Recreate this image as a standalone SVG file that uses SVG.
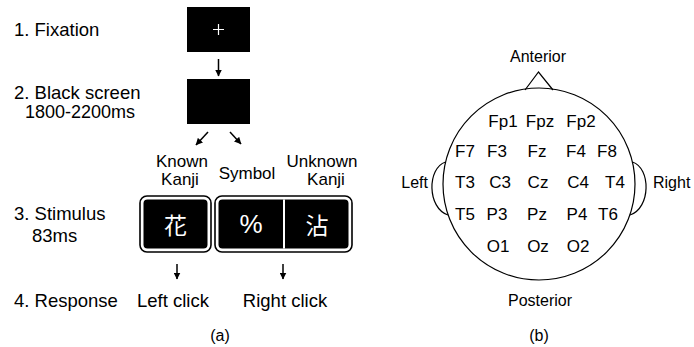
<svg xmlns="http://www.w3.org/2000/svg" width="694" height="347" viewBox="0 0 694 347">
<defs>
<marker id="ah" markerUnits="userSpaceOnUse" markerWidth="7" markerHeight="7" refX="6.5" refY="3.5" orient="auto"><path d="M0,0 L7,3.5 L0,7 Z" fill="#000"/></marker>
<style>
text{font-family:"Liberation Sans",Arial,"Noto Sans CJK JP",sans-serif;fill:#000}
.lab{font-size:18.5px}
.cat{font-size:17px;text-anchor:middle}
.el{font-size:17px;text-anchor:middle}
.hd{font-size:16px}
.cap{font-size:16px;text-anchor:middle}
.stim{font-family:"Noto Sans CJK JP","Liberation Sans",sans-serif;font-size:23px;fill:#fff;text-anchor:middle;dominant-baseline:central}
.ln{stroke:#000;stroke-width:1.5;fill:none}
.thin{stroke:#000;stroke-width:1.2;fill:none}
.outer{fill:#fff;stroke:#000;stroke-width:1.6}
</style>
</defs>
<rect width="694" height="347" fill="#fff"/>

<g id="labels">
<text class="lab" x="14" y="36">1. Fixation</text>
<text class="lab" x="14" y="99">2. Black screen</text>
<text class="lab" x="25" y="118" style="font-size:18px">1800-2200ms</text>
<text class="lab" x="14" y="220">3. Stimulus</text>
<text class="lab" x="32" y="242">83ms</text>
<text class="lab" x="14" y="307">4. Response</text>
</g>

<g id="fixation">
<rect x="187" y="7" width="63" height="45" fill="#000"/>
<path d="M213,29.5 H224 M218.5,24 V35" stroke="#fff" stroke-width="1.2"/>
</g>

<g id="blackscreen">
<rect x="187" y="79" width="63" height="45" fill="#000"/>
</g>

<g id="categories">
<text class="cat" x="182" y="167">Known</text>
<text class="cat" x="180" y="185">Kanji</text>
<text class="cat" x="247" y="179">Symbol</text>
<text class="cat" x="322" y="167">Unknown</text>
<text class="cat" x="326" y="185">Kanji</text>
</g>

<g id="stim-known">
<rect class="outer" x="140" y="196" width="71" height="56" rx="7"/>
<rect x="143.5" y="199.5" width="64" height="49" rx="4" fill="#000"/>
<text class="stim" x="175.5" y="224">花</text>
</g>

<g id="stim-other">
<rect class="outer" x="215" y="196" width="137" height="56" rx="7"/>
<rect x="218.5" y="199.5" width="130" height="49" rx="4" fill="#000"/>
<line x1="284" y1="199.5" x2="284" y2="248.5" stroke="#fff" stroke-width="2"/>
<text class="stim" x="251" y="224" style="font-family:'Liberation Sans',sans-serif;font-size:26px">%</text>
<text class="stim" x="317" y="224">沾</text>
</g>

<g id="responses">
<text class="lab" x="173" y="307" text-anchor="middle">Left click</text>
<text class="lab" x="285" y="307" text-anchor="middle">Right click</text>
</g>

<g id="connectors">
<line class="ln" x1="218.5" y1="59" x2="218.5" y2="76" marker-end="url(#ah)"/>
<line class="ln" x1="208" y1="132" x2="196" y2="145" marker-end="url(#ah)"/>
<line class="ln" x1="230" y1="132" x2="241" y2="144" marker-end="url(#ah)"/>
<line class="ln" x1="177" y1="264" x2="177" y2="279" marker-end="url(#ah)"/>
<line class="ln" x1="283" y1="264" x2="283" y2="279" marker-end="url(#ah)"/>
</g>

<text class="cap" x="220" y="341">(a)</text>

<g id="head">
<circle cx="539" cy="184" r="96" class="thin"/>
<path d="M525,90 L538.5,72 L553,90" class="thin"/>
<path d="M445.6,162 C427,168 427,208 448,215" class="thin"/>
<path d="M632.4,162 C651,168 651,208 630,215" class="thin"/>
<text class="hd" x="538" y="62" text-anchor="middle">Anterior</text>
<text class="hd" x="540" y="306" text-anchor="middle">Posterior</text>
<text class="hd" x="428" y="188" text-anchor="end">Left</text>
<text class="hd" x="653" y="188">Right</text>
</g>

<g id="electrodes">
<text class="el" x="503" y="127">Fp1</text>
<text class="el" x="540" y="127">Fpz</text>
<text class="el" x="581" y="127">Fp2</text>
<text class="el" x="465" y="157">F7</text>
<text class="el" x="497" y="157">F3</text>
<text class="el" x="537" y="157">Fz</text>
<text class="el" x="576" y="157">F4</text>
<text class="el" x="607" y="157">F8</text>
<text class="el" x="465" y="188">T3</text>
<text class="el" x="500" y="188">C3</text>
<text class="el" x="538" y="188">Cz</text>
<text class="el" x="578" y="188">C4</text>
<text class="el" x="615" y="188">T4</text>
<text class="el" x="465" y="220">T5</text>
<text class="el" x="497" y="220">P3</text>
<text class="el" x="537" y="220">Pz</text>
<text class="el" x="577" y="220">P4</text>
<text class="el" x="608" y="220">T6</text>
<text class="el" x="498" y="252">O1</text>
<text class="el" x="538" y="252">Oz</text>
<text class="el" x="578" y="252">O2</text>
</g>

<text class="cap" x="539" y="341">(b)</text>
</svg>
